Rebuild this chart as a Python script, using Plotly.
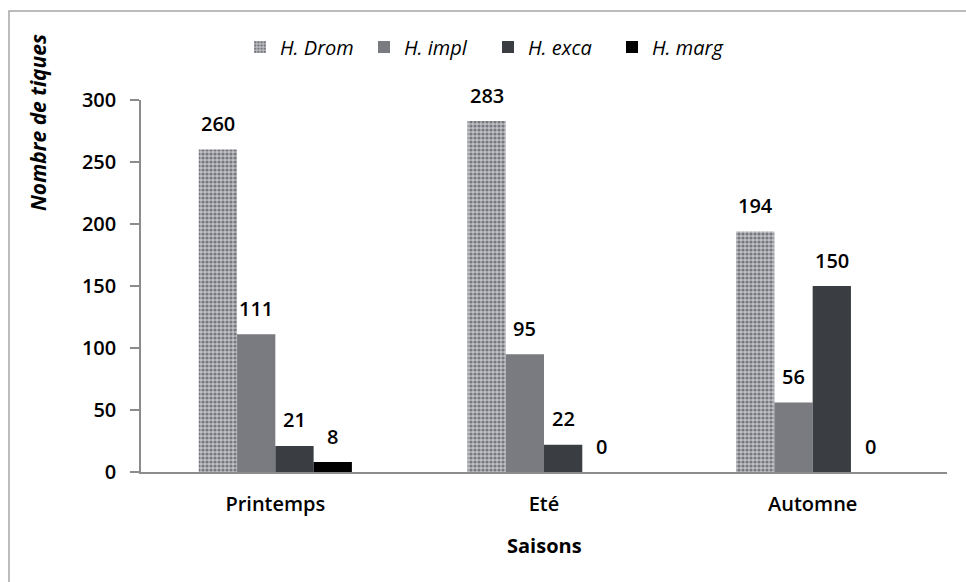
import plotly.graph_objects as go

# Tick counts per season and species
saisons = ["Printemps", "Eté", "Automne"]
especes = ["H. Drom", "H. impl", "H. exca", "H. marg"]
h_drom = [260, 283, 194]
h_impl = [111, 95, 56]
h_exca = [21, 22, 150]
h_marg = [8, 0, 0]
series = [h_drom, h_impl, h_exca, h_marg]
y_ticks = [0, 50, 100, 150, 200, 250, 300]

W, H = 966, 582
ML, MR, MT, MB = 141, 19, 100, 110
BARGAP = 0.43
plot_w = W - ML - MR
plot_h = H - MT - MB
cat_w = plot_w / len(saisons)
bar_w = cat_w * (1 - BARGAP) / len(series)

FONT = "Open Sans"
AXIS_GREY = "#8c8c8c"

colors = ["#b2b4b9", "#7a7b80", "#3a3e42", "#000000"]


def px_to_paper_y(py):
    return (H - MB - py) / plot_h


def px_to_paper_x(px):
    return (px - ML) / plot_w


fig = go.Figure()
for i, (name, vals) in enumerate(zip(especes, series)):
    marker = dict(color=colors[i], line=dict(width=0))
    if i == 0:
        marker["pattern"] = dict(shape=".", fgcolor="#76787e", bgcolor="#bfc1c6",
                                 size=4, solidity=0.5, fillmode="replace")
    fig.add_trace(go.Bar(x=saisons, y=vals, name=name, marker=marker,
                         hoverinfo="skip"))

# value labels above each bar
annotations = []
for i, vals in enumerate(series):
    shift = (i - (len(series) - 1) / 2) * bar_w
    for s, v in zip(saisons, vals):
        annotations.append(dict(x=s, y=v, xref="x", yref="y", text=str(v),
                                showarrow=False, xshift=shift, yshift=26,
                                yanchor="middle", xanchor="center",
                                font=dict(family=FONT, size=20, color="#000",
                                          weight=600)))

# y-axis title, placed high as in the original layout
annotations.append(dict(x=px_to_paper_x(38), y=px_to_paper_y(122),
                        xref="paper", yref="paper", text="Nombre de tiques",
                        textangle=-90, showarrow=False,
                        xanchor="center", yanchor="middle",
                        font=dict(family=FONT, size=21, color="#000",
                                  weight=700, style="italic")))
# x-axis title
annotations.append(dict(x=0.5, y=px_to_paper_y(545), xref="paper",
                        yref="paper", text="Saisons", showarrow=False,
                        xanchor="center", yanchor="middle",
                        font=dict(family=FONT, size=20, color="#000",
                                  weight=700)))

# outer chart frame
shapes = [dict(type="rect", xref="paper", yref="paper",
               x0=px_to_paper_x(9), x1=px_to_paper_x(W + 5),
               y0=px_to_paper_y(H + 5), y1=px_to_paper_y(11),
               line=dict(color="#a6a6a6", width=1.5), layer="below")]

fig.update_layout(
    width=W, height=H,
    margin=dict(l=ML, r=MR, t=MT, b=MB),
    paper_bgcolor="white", plot_bgcolor="white",
    barmode="group", bargap=BARGAP, bargroupgap=0,
    font=dict(family=FONT, color="#000"),
    showlegend=True,
    legend=dict(orientation="h", x=px_to_paper_x(240), xanchor="left",
                y=px_to_paper_y(47), yanchor="middle",
                font=dict(family=FONT, size=20, style="italic"),
                itemwidth=30, entrywidth=79, entrywidthmode="pixels",
                bgcolor="rgba(0,0,0,0)"),
    annotations=annotations,
    shapes=shapes,
)
fig.update_xaxes(showline=True, linecolor=AXIS_GREY, linewidth=1.5,
                 ticks="", showgrid=False, ticklabelstandoff=13,
                 tickfont=dict(family=FONT, size=20, weight=600))
fig.update_yaxes(range=[0, 300], tickvals=y_ticks, showline=True,
                 linecolor=AXIS_GREY, linewidth=1.5, ticks="outside",
                 ticklen=9, tickcolor=AXIS_GREY, tickwidth=1.5,
                 showgrid=False, zeroline=False, ticklabelstandoff=10,
                 tickfont=dict(family=FONT, size=20, weight=600))

fig.write_html("out.html")
